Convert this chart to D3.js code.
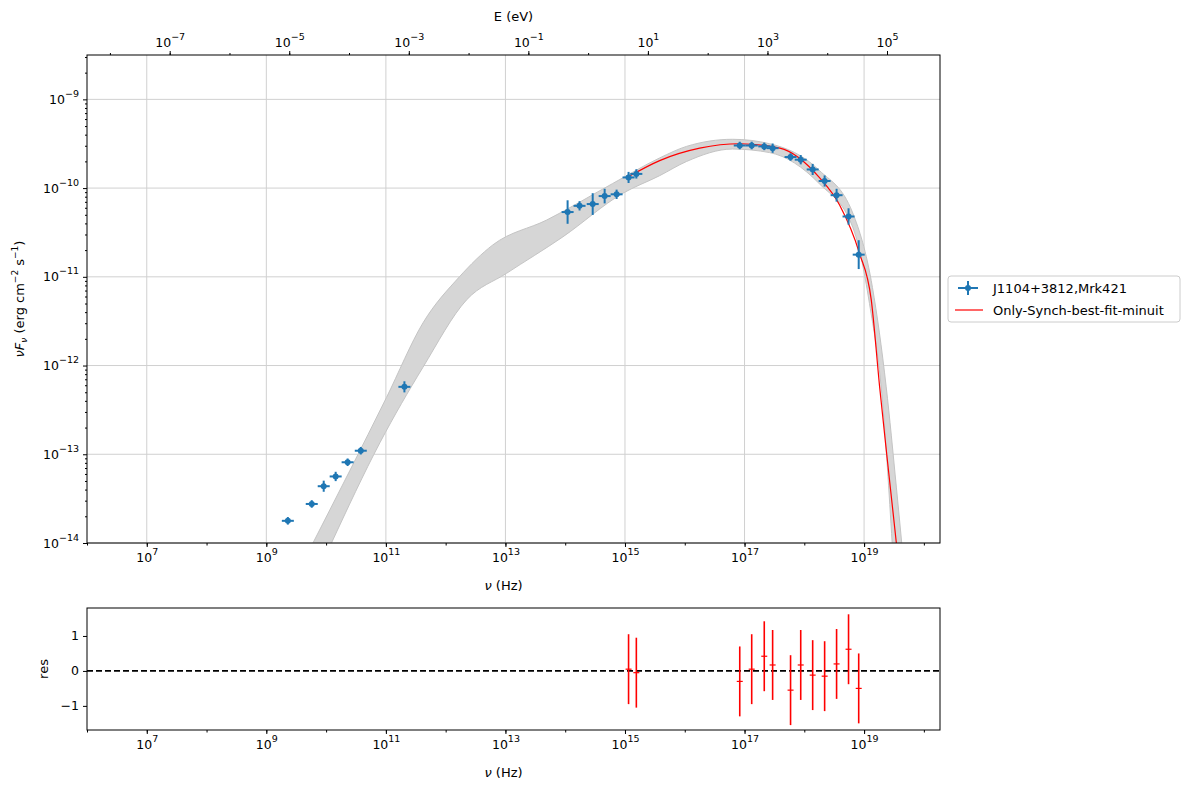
<!DOCTYPE html><html><head><meta charset="utf-8"><script src="https://cdn.jsdelivr.net/npm/d3@7"></script>
<style>body{margin:0;background:#fff}text{font-family:"DejaVu Sans",sans-serif}</style></head><body><svg id="c" width="1190" height="790"></svg>
<script>
// data: log10(nu [Hz]), log10(nuFnu), y error (dex)
const dataLogNu=[9.36,9.76,9.96,10.16,10.36,10.58,11.31,14.04,14.24,14.46,14.66,14.86,15.06,15.19,16.92,17.12,17.33,17.47,17.77,17.94,18.14,18.34,18.54,18.74,18.91];
const dataLogF=[-13.75,-13.56,-13.36,-13.25,-13.09,-12.96,-12.24,-10.27,-10.20,-10.18,-10.09,-10.07,-9.88,-9.84,-9.52,-9.52,-9.53,-9.55,-9.65,-9.68,-9.79,-9.92,-10.08,-10.32,-10.75];
const dataErr=[0.02,0.02,0.04,0.03,0.02,0.02,0.04,0.11,0.03,0.1,0.06,0.03,0.04,0.03,0.02,0.02,0.02,0.03,0.02,0.03,0.04,0.04,0.05,0.07,0.14];
const bandUpNu=[9.78,11.01,11.62,12.23,12.79,13.69,14.79,15.58,16.03,16.80,17.42,18.25,18.81,19.14,19.37,19.54,19.63];
const bandUpF=[-14.00,-12.36,-11.52,-11.00,-10.64,-10.36,-9.95,-9.66,-9.53,-9.45,-9.50,-9.80,-10.28,-11.12,-12.24,-13.37,-14.00];
const bandLoNu=[10.09,10.90,11.62,12.35,13.02,13.96,14.96,15.58,16.03,16.80,17.42,18.25,18.81,19.09,19.31,19.47];
const bandLoF=[-14.00,-12.87,-12.02,-11.26,-10.96,-10.55,-10.06,-9.86,-9.70,-9.56,-9.60,-9.95,-10.44,-11.30,-12.42,-14.00];
const modelNu=[15.06,15.58,16.25,16.92,17.59,18.25,18.59,18.92,19.12,19.26,19.39,19.54];
const modelF=[-9.87,-9.69,-9.55,-9.50,-9.55,-9.88,-10.19,-10.73,-11.26,-12.24,-13.07,-14.00];
const resNu=[15.06,15.19,16.92,17.12,17.33,17.47,17.77,17.94,18.14,18.34,18.54,18.74,18.91];
const resVal=[0.05,-0.05,-0.3,0.05,0.42,0.17,-0.55,0.17,-0.12,-0.15,0.2,0.62,-0.5];
const xTicks=[7,9,11,13,15,17,19];
const yTicks=[-14,-13,-12,-11,-10,-9];
const eTicks=[-7,-5,-3,-1,1,3,5];
const resTicks=[-1,0,1];
const hEv=4.1357e-15;

const svg=d3.select("#c");
const L=87,R=940,T=55,B=543,RT=608,RB=730;
const x=d3.scaleLinear().domain([6,20.27]).range([L,R]);
const y=d3.scaleLinear().domain([-14,-8.5]).range([B,T]);
const yr=d3.scaleLinear().domain([-1.69,1.8]).range([RB,RT]);
const sup=(g,b,e)=>{g.text(null);g.append("tspan").text(b);g.append("tspan").attr("dy",-7).attr("font-size",9.5).text(e<0?"−"+(-e):e);};
svg.append("clipPath").attr("id","cp").append("rect").attr("x",L).attr("y",T).attr("width",R-L).attr("height",B-T);
// grid
const g=svg.append("g");
xTicks.forEach(t=>g.append("line").attr("x1",x(t)).attr("x2",x(t)).attr("y1",T).attr("y2",B).attr("stroke","#d0d0d0"));
yTicks.forEach(t=>g.append("line").attr("x1",L).attr("x2",R).attr("y1",y(t)).attr("y2",y(t)).attr("stroke","#d0d0d0"));
const pl=svg.append("g").attr("clip-path","url(#cp)");
// band
const up=bandUpNu.map((v,i)=>[v,bandUpF[i]]);
const lo=bandLoNu.map((v,i)=>[v,bandLoF[i]]).reverse();
const lineGen=d3.line().x(d=>x(d[0])).y(d=>y(d[1])).curve(d3.curveMonotoneX);
const bandPath=lineGen(up)+"L"+lineGen(lo).slice(1)+"Z";
pl.append("path").attr("d",bandPath).attr("fill","#d6d6d6").attr("stroke","#c4c4c4");
pl.append("path").attr("d",lineGen(modelNu.map((v,i)=>[v,modelF[i]]))).attr("fill","none").attr("stroke","red").attr("stroke-width",1.2);
// data
const col="#1f77b4";
dataLogNu.forEach((v,i)=>{
 const cx=x(v),cy=y(dataLogF[i]);
 pl.append("line").attr("x1",cx-6).attr("x2",cx+6).attr("y1",cy).attr("y2",cy).attr("stroke",col).attr("stroke-width",2);
 pl.append("line").attr("x1",cx).attr("x2",cx).attr("y1",y(dataLogF[i]-dataErr[i])+2).attr("y2",y(dataLogF[i]+dataErr[i])-2).attr("stroke",col).attr("stroke-width",2);
 pl.append("circle").attr("cx",cx).attr("cy",cy).attr("r",3).attr("fill",col);
});
svg.append("rect").attr("x",L).attr("y",T).attr("width",R-L).attr("height",B-T).attr("fill","none").attr("stroke","#000");
// axes
const ax=svg.append("g").attr("transform",`translate(0,${B})`).call(d3.axisBottom(x).tickValues(xTicks).tickSize(4).tickPadding(6));
ax.select(".domain").remove();
ax.selectAll(".tick text").attr("font-size",12.5).each(function(d){sup(d3.select(this),"10",d);});
const xm=[];for(let d=6;d<=20;d++)xm.push(d);
svg.append("g").attr("transform",`translate(0,${B})`).call(d3.axisBottom(x).tickValues(xm).tickSize(2.5).tickFormat("")).select(".domain").remove();
const ay=svg.append("g").attr("transform",`translate(${L},0)`).call(d3.axisLeft(y).tickValues(yTicks).tickSize(4).tickPadding(4));
ay.select(".domain").remove();
ay.selectAll(".tick text").attr("font-size",12.5).each(function(d){sup(d3.select(this),"10",d);});
const ym=[];for(let d=-14;d<-8.5;d++)for(let k=2;k<10;k++){const v=d+Math.log10(k);if(v<=-8.5)ym.push(v);}
svg.append("g").attr("transform",`translate(${L},0)`).call(d3.axisLeft(y).tickValues(ym).tickSize(2).tickFormat("")).select(".domain").remove();
// top axis
const shift=Math.log10(hEv);
const at=svg.append("g").attr("transform",`translate(0,${T})`).call(d3.axisTop(x).tickValues(eTicks.map(e=>e-shift)).tickSize(4).tickPadding(4));
at.select(".domain").remove();
at.selectAll(".tick text").attr("font-size",12.5).each(function(d,i){sup(d3.select(this),"10",eTicks[i]);});
const em=[];for(let e=-8;e<=5;e++)em.push(e-shift);
svg.append("g").attr("transform",`translate(0,${T})`).call(d3.axisTop(x).tickValues(em.filter(v=>v<=20.27&&v>=6)).tickSize(2).tickFormat("")).select(".domain").remove();
svg.append("text").attr("x",(L+R)/2).attr("y",21).attr("text-anchor","middle").attr("font-size",13).text("E (eV)");
const xl=svg.append("text").attr("x",(L+R)/2-10).attr("y",590).attr("text-anchor","middle").attr("font-size",13);
xl.append("tspan").attr("font-style","italic").text("ν");xl.append("tspan").text("  (Hz)");
const yl=svg.append("text").attr("transform","translate(24,299) rotate(-90)").attr("text-anchor","middle").attr("font-size",13);
yl.append("tspan").attr("font-style","italic").text("νF");yl.append("tspan").attr("font-size",9).attr("dy",3).attr("font-style","italic").text("ν");
yl.append("tspan").attr("dy",-3).text("   (erg cm");yl.append("tspan").attr("dy",-6).attr("font-size",9).text("−2");
yl.append("tspan").attr("dy",6).text("  s");yl.append("tspan").attr("dy",-6).attr("font-size",9).text("−1");yl.append("tspan").attr("dy",6).text(")");
// legend
const lg=svg.append("g");
lg.append("rect").attr("x",948).attr("y",276).attr("width",232).attr("height",46).attr("rx",3).attr("fill","#fff").attr("stroke","#ccc");
lg.append("line").attr("x1",958).attr("x2",978).attr("y1",288).attr("y2",288).attr("stroke",col).attr("stroke-width",2);
lg.append("line").attr("x1",968).attr("x2",968).attr("y1",281).attr("y2",295).attr("stroke",col).attr("stroke-width",2);
lg.append("circle").attr("cx",968).attr("cy",288).attr("r",3).attr("fill",col);
lg.append("text").attr("x",993).attr("y",293).attr("font-size",13).text("J1104+3812,Mrk421");
lg.append("line").attr("x1",955).attr("x2",983).attr("y1",310).attr("y2",310).attr("stroke","red").attr("stroke-width",1.2);
lg.append("text").attr("x",993).attr("y",315).attr("font-size",13).text("Only-Synch-best-fit-minuit");
// residuals
svg.append("line").attr("x1",L).attr("x2",R).attr("y1",yr(0)).attr("y2",yr(0)).attr("stroke","#000").attr("stroke-width",1.6).attr("stroke-dasharray","6,3");
resNu.forEach((v,i)=>{
 const cx=x(v),cy=yr(resVal[i]);
 svg.append("line").attr("x1",cx).attr("x2",cx).attr("y1",yr(resVal[i]-1)).attr("y2",yr(resVal[i]+1)).attr("stroke","red").attr("stroke-width",1.6);
 svg.append("line").attr("x1",cx-3).attr("x2",cx+3).attr("y1",cy).attr("y2",cy).attr("stroke","red").attr("stroke-width",1.2);
});
svg.append("rect").attr("x",L).attr("y",RT).attr("width",R-L).attr("height",RB-RT).attr("fill","none").attr("stroke","#000");
const rx=svg.append("g").attr("transform",`translate(0,${RB})`).call(d3.axisBottom(x).tickValues(xTicks).tickSize(4).tickPadding(6));
rx.select(".domain").remove();
rx.selectAll(".tick text").attr("font-size",12.5).each(function(d){sup(d3.select(this),"10",d);});
svg.append("g").attr("transform",`translate(0,${RB})`).call(d3.axisBottom(x).tickValues(xm).tickSize(2.5).tickFormat("")).select(".domain").remove();
const ry=svg.append("g").attr("transform",`translate(${L},0)`).call(d3.axisLeft(yr).tickValues(resTicks).tickSize(4).tickPadding(4).tickFormat(d=>d<0?"−"+(-d):d));
ry.select(".domain").remove();ry.selectAll(".tick text").attr("font-size",12.5);
svg.append("text").attr("transform","translate(48,669) rotate(-90)").attr("text-anchor","middle").attr("font-size",13).text("res");
const xl2=svg.append("text").attr("x",(L+R)/2-10).attr("y",777).attr("text-anchor","middle").attr("font-size",13);
xl2.append("tspan").attr("font-style","italic").text("ν");xl2.append("tspan").text("  (Hz)");
</script></body></html>
